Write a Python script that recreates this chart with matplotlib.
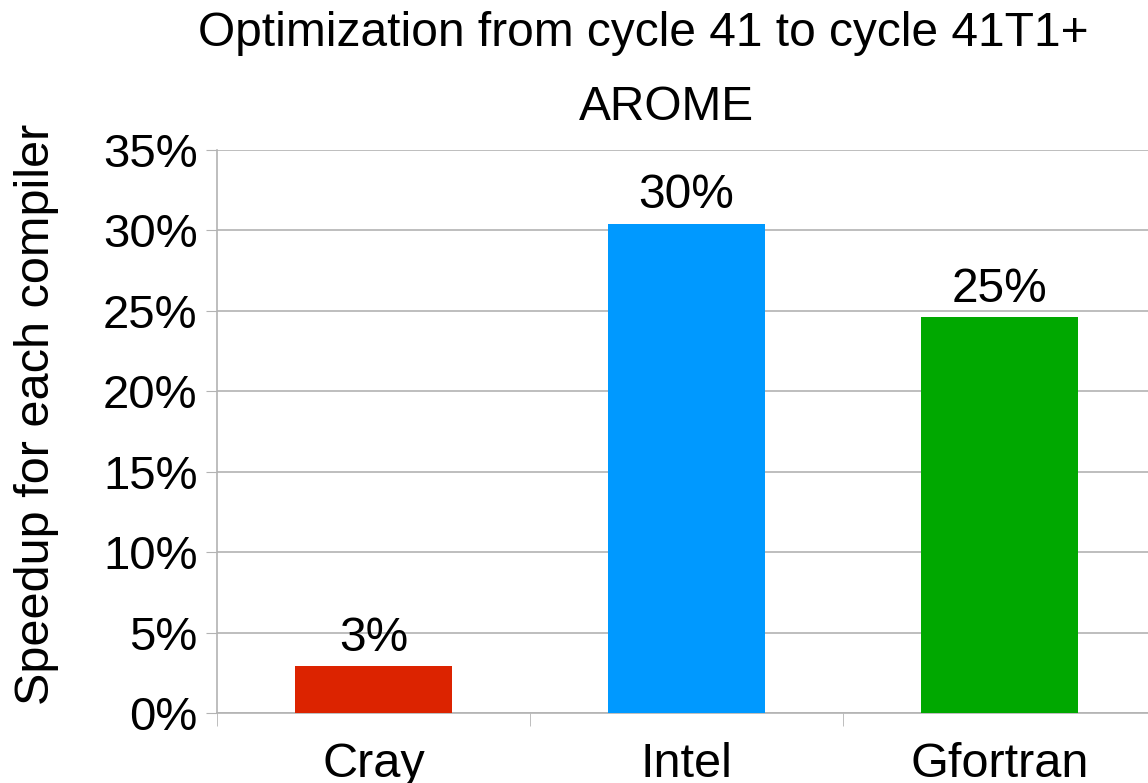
import matplotlib.pyplot as plt
from matplotlib.ticker import FuncFormatter

compilers = ['Cray', 'Intel', 'Gfortran']
speedup = [2.9, 30.4, 24.6]
bar_labels = ['3%', '30%', '25%']
colors = ['#dc2300', '#0099ff', '#00a800']

plt.rcParams['font.family'] = ['Liberation Sans', 'DejaVu Sans']

fig = plt.figure(figsize=(11.48, 7.83), dpi=100)
ax = fig.add_axes([217 / 1148, 70 / 783, 939 / 1148, 563 / 783])

x = range(len(compilers))
bars = ax.bar(x, speedup, width=0.5, color=colors, zorder=3)
for b, lab in zip(bars, bar_labels):
    ax.text(b.get_x() + b.get_width() / 2, b.get_height() + 0.35, lab,
            ha='center', va='bottom', fontsize=34.5)

ax.set_xlim(-0.5, 2.5)
ax.set_ylim(0, 35)
ax.set_yticks(range(0, 36, 5))
ax.yaxis.set_major_formatter(FuncFormatter(lambda v, p: '%d%%' % v))
ax.set_xticks(list(x))
ax.set_xticklabels(compilers)
ax.set_xticks([-0.5, 0.5, 1.5, 2.5], minor=True)
ax.tick_params(axis='x', which='major', length=0, labelsize=35, pad=21)
ax.tick_params(axis='x', which='minor', length=9, color='#b3b3b3')
ax.tick_params(axis='y', length=8, color='#b3b3b3', labelsize=34, pad=6)

ax.grid(axis='y', color='#b3b3b3', linewidth=1.2, zorder=0)
for s in ['top', 'right']:
    ax.spines[s].set_visible(False)
for s in ['left', 'bottom']:
    ax.spines[s].set_color('#b3b3b3')
    ax.spines[s].set_linewidth(1.2)

ax.set_ylabel('Speedup for each compiler', fontsize=35)
ax.yaxis.set_label_coords(-158 / 939, 0.53)

fig.text(643 / 1148, 1 - 34 / 783, 'Optimization from cycle 41 to cycle 41T1+',
         ha='center', va='center', fontsize=34.5)
fig.text(666 / 1148, 1 - 108 / 783, 'AROME', ha='center', va='center', fontsize=34.5)

fig.savefig('out.png', dpi=100)
